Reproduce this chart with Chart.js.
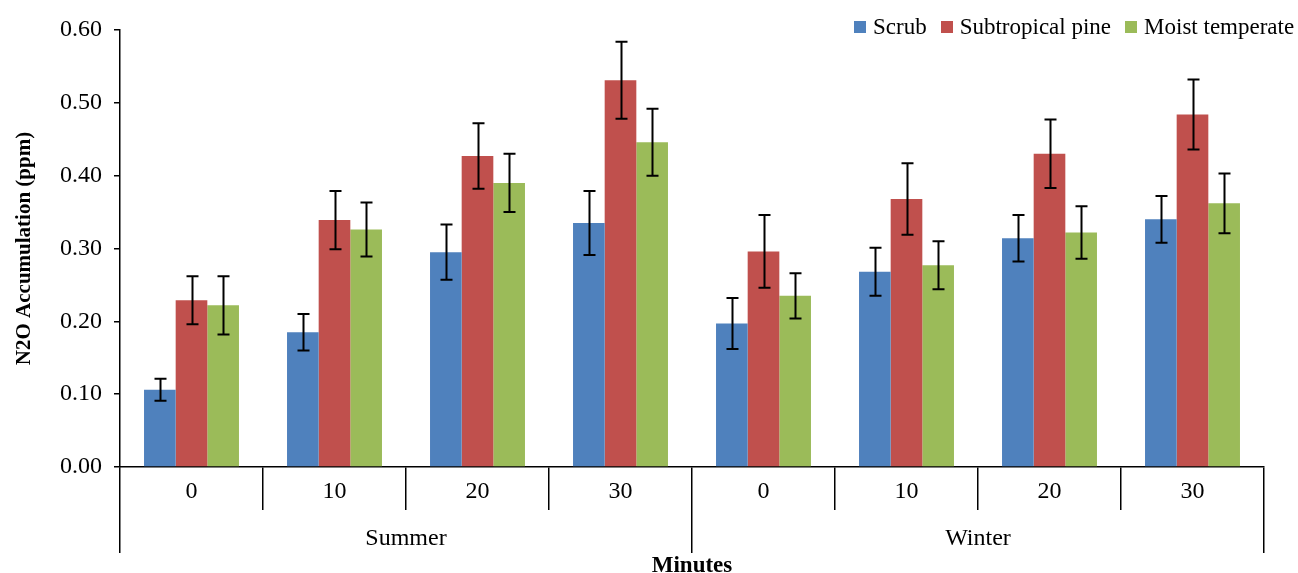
<!DOCTYPE html>
<html>
<head>
<meta charset="utf-8">
<script src="https://cdn.jsdelivr.net/npm/chart.js@4/dist/chart.umd.min.js"></script>
<style>
  html, body { margin: 0; padding: 0; background: #fff; }
  #wrap { position: relative; width: 1298px; height: 573px; }
  #legend { position: absolute; top: 13px; left: 854px; display: flex; align-items: center;
            font-family: "Liberation Serif", "Times New Roman", serif; font-size: 23px; line-height: 28px; color: #000; white-space: nowrap; }
  #legend .item { display: flex; align-items: center; margin-right: 14px; }
  #legend .box { width: 12px; height: 12px; margin-right: 7px; }
</style>
</head>
<body>
<div id="wrap">
  <canvas id="c" width="1298" height="573"></canvas>
  <div id="legend"></div>
</div>
<script>
// ---- data ----
const minutes = ['0', '10', '20', '30', '0', '10', '20', '30'];
const seasons = ['Summer', 'Winter'];
const seriesNames = ['Scrub', 'Subtropical pine', 'Moist temperate'];
const seriesColors = ['#4F81BD', '#C0504D', '#9BBB59'];

const scrub      = [0.106, 0.185, 0.295, 0.335, 0.197, 0.268, 0.314, 0.340];
const scrubErr   = [0.015, 0.025, 0.038, 0.044, 0.035, 0.033, 0.032, 0.032];
const pine       = [0.229, 0.339, 0.427, 0.531, 0.296, 0.368, 0.430, 0.484];
const pineErr    = [0.033, 0.040, 0.045, 0.053, 0.050, 0.049, 0.047, 0.048];
const moist      = [0.222, 0.326, 0.390, 0.446, 0.235, 0.277, 0.322, 0.362];
const moistErr   = [0.040, 0.037, 0.040, 0.046, 0.031, 0.033, 0.036, 0.041];

const yTitle = 'N2O Accumulation (ppm)';
const xTitle = 'Minutes';

const FONT = '"Liberation Serif", "Times New Roman", serif';

const values = [scrub, pine, moist];
const errors = [scrubErr, pineErr, moistErr];

const errorBars = {
  id: 'errorBars',
  afterDatasetsDraw(chart) {
    const ctx = chart.ctx;
    const ys = chart.scales.y;
    ctx.save();
    ctx.strokeStyle = '#000';
    ctx.lineWidth = 2;
    chart.data.datasets.forEach((ds, i) => {
      const meta = chart.getDatasetMeta(i);
      meta.data.forEach((bar, j) => {
        const v = ds.data[j], e = ds.errors[j];
        const x = Math.round(bar.x) + 0.5;
        const yt = ys.getPixelForValue(v + e);
        const yb = ys.getPixelForValue(v - e);
        const hw = 6;
        ctx.beginPath();
        ctx.moveTo(x, yt); ctx.lineTo(x, yb);
        ctx.moveTo(x - hw, yt); ctx.lineTo(x + hw, yt);
        ctx.moveTo(x - hw, yb); ctx.lineTo(x + hw, yb);
        ctx.stroke();
      });
    });
    ctx.restore();
  }
};

const datasets = seriesNames.map((name, i) => ({
  label: name,
  data: values[i],
  errors: errors[i],
  backgroundColor: seriesColors[i],
  borderWidth: 0,
  categoryPercentage: 0.664,
  barPercentage: 1.0
}));

new Chart(document.getElementById('c'), {
  type: 'bar',
  data: { labels: minutes, datasets },
  plugins: [errorBars],
  options: {
    responsive: false,
    animation: false,
    devicePixelRatio: 1,
    layout: { padding: { left: 0, right: 34, top: 30, bottom: 0 } },
    plugins: { legend: { display: false }, tooltip: { enabled: false } },
    scales: {
      y: {
        min: 0, max: 0.6,
        ticks: { stepSize: 0.1, color: '#000', font: { family: FONT, size: 24 }, padding: 12,
                 callback: v => Number(v).toFixed(2) },
        grid: { drawOnChartArea: false, drawTicks: true, tickLength: 6, color: '#000', lineWidth: 1.5 },
        border: { display: true, color: '#000', width: 1.5 },
        title: { display: true, text: yTitle, color: '#000', font: { family: FONT, size: 21, weight: 'bold' },
                 padding: { top: 12, bottom: 0 } },
        afterFit(s) { s.width = 120; }
      },
      x: {
        type: 'category',
        offset: true,
        ticks: { color: '#000', font: { family: FONT, size: 24 }, padding: -33, maxRotation: 0, autoSkip: false },
        grid: { offset: true, drawOnChartArea: false, drawTicks: true, tickLength: 43, color: '#000', lineWidth: 1.5 },
        border: { display: true, color: '#000', width: 1.5 },
        afterFit(s) { s.height = 43; }
      },
      x2: {
        type: 'category',
        position: 'bottom',
        labels: seasons,
        offset: true,
        ticks: { color: '#000', font: { family: FONT, size: 24 }, padding: -29, maxRotation: 0, autoSkip: false },
        grid: { offset: true, drawOnChartArea: false, drawTicks: true, tickLength: 43, color: '#000', lineWidth: 1.5 },
        border: { display: false },
        title: { display: true, text: xTitle, color: '#000', font: { family: FONT, size: 23, weight: 'bold' },
                 padding: { top: 0, bottom: -7 } },
        afterFit(s) { s.height = 63; }
      }
    }
  }
});

// HTML legend
const lg = document.getElementById('legend');
seriesNames.forEach((n, i) => {
  const it = document.createElement('div'); it.className = 'item';
  const b = document.createElement('span'); b.className = 'box'; b.style.background = seriesColors[i];
  const t = document.createElement('span'); t.textContent = n;
  it.appendChild(b); it.appendChild(t); lg.appendChild(it);
});
</script>
</body>
</html>
